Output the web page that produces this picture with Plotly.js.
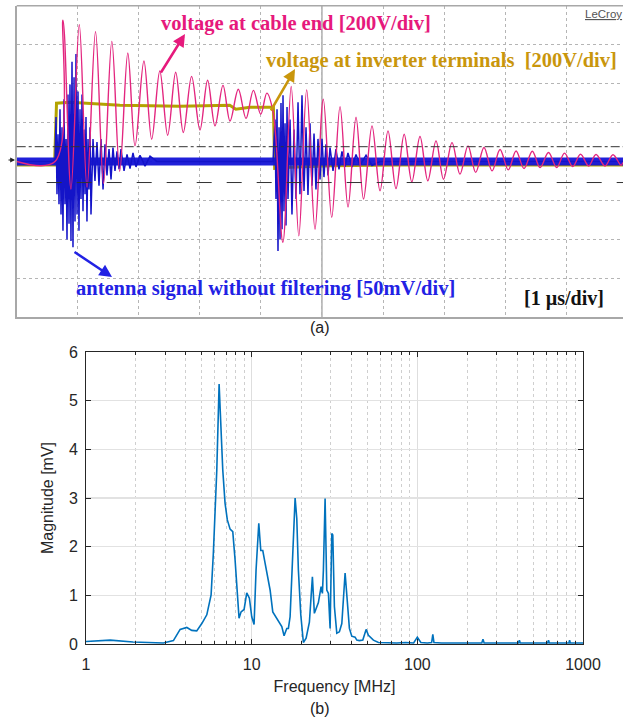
<!DOCTYPE html>
<html><head><meta charset="utf-8">
<script src="https://cdn.plot.ly/plotly-3.0.1.min.js"></script>
<style>html,body{margin:0;padding:0;background:#fff}#chart{width:623px;height:721px}</style>
</head><body><div id="chart"></div>
<script>
// ---------- (a) oscilloscope capture: time in µs from left edge of screen ----------
const cableEndTimeUs = [0, 0.627, 0.758, 0.889, 1.025, 1.152, 1.291, 1.422, 1.558, 1.687, 1.820, 1.938, 2.084, 2.211, 2.344, 2.473, 2.604, 2.729, 2.865, 3.002, 3.127, 3.248, 3.379, 3.494, 3.630, 3.756, 3.877, 3.997, 4.097, 4.200, 4.360, 4.496, 4.621, 4.750, 4.886, 5.022, 5.160, 5.296, 5.427, 5.558, 5.681, 5.820, 5.951, 6.082, 6.213, 6.347, 6.472, 6.606, 6.734, 6.868, 6.991, 7.130, 7.261, 7.392, 7.518, 7.654, 7.786, 7.917, 8.052, 8.179, 8.310, 8.446, 8.572, 8.711, 8.845, 8.973, 9.107, 9.235, 9.369, 9.489, 9.636, 9.767, 9.898, 9.931];
const cableEndV = [0, 0, 726, -142, 702, -132, 667, -112, 617, -50, 557, 80, 516, 114, 465, 135, 458, 149, 437, 162, 417, 183, 391, 208, 371, 221, 365, 243, 351, 253, -415, 385, -382, 368, -347, 320, -287, 282, -234, 227, -193, 183, -151, 157, -139, 140, -105, 128, -99, 106, -91, 97, -65, 80, -56, 72, -48, 62, -43, 54, -36, 53, -31, 46, -31, 43, -26, 37, -23, 36, -23, 35, -19, -5];

const inverterTimeUs = [0, 0.620, 0.652, 0.873, 1.69, 2.67, 3.49, 3.59, 3.82, 4.205, 4.225, 4.48, 5.13, 6.28, 9.931];
const inverterV = [-18, -18, 299, 304, 289, 284, 289, 268, 278, 278, -35, -30, -22, -18, -18];

const antennaTimeUs = [0, 0.627, 0.644, 0.660, 0.676, 0.693, 0.709, 0.726, 0.742, 0.758, 0.775, 0.791, 0.808, 0.824, 0.840, 0.857, 0.873, 0.889, 0.906, 0.922, 0.939, 0.955, 0.971, 0.988, 1.004, 1.020, 1.037, 1.053, 1.070, 1.086, 1.102, 1.119, 1.135, 1.151, 1.168, 1.184, 1.201, 1.217, 1.250, 1.282, 1.315, 1.348, 1.381, 1.414, 1.446, 1.479, 1.512, 1.545, 1.577, 1.610, 1.643, 1.676, 1.708, 1.758, 1.807, 1.856, 1.905, 1.954, 2.020, 2.102, 2.184, 2.30, 4.199, 4.231, 4.247, 4.264, 4.280, 4.297, 4.313, 4.329, 4.346, 4.362, 4.378, 4.395, 4.411, 4.428, 4.444, 4.477, 4.509, 4.542, 4.575, 4.608, 4.640, 4.673, 4.706, 4.739, 4.771, 4.804, 4.837, 4.870, 4.902, 4.935, 4.968, 5.001, 5.033, 5.066, 5.099, 5.132, 5.181, 5.230, 5.279, 5.328, 5.377, 5.426, 5.492, 5.558, 5.623, 5.722, 5.820, 5.95, 9.931];
const antennaMv = [0, 0, 57, -42, 35, -55, 67, -68, 44, -89, 80, -55, 29, -100, 86, -80, 99, -102, 128, -110, 108, -77, 138, -68, 90, -89, 67, -48, 86, -64, 41, -42, 57, -77, 29, -36, 44, -68, 29, -25, 25, -31, 29, -36, 22, -18, 16, -23, 18, -12, 13, -10, 16, -12, 9, -9, 11, -7, 8, -6, 7, 0, 0, 54, -48, 67, -115, 44, -100, 75, -87, 85, -64, 49, -82, 70, -48, 54, -68, 41, -48, 76, -42, 85, -38, 44, -43, 49, -31, 36, -36, 29, -23, 29, -20, 22, -18, 18, -12, 16, -10, 13, -7, 11, -7, 9, -5, 8, -5, 0, 0];

// antenna noise envelope (mV) and cursor levels (mV)
const noiseTimeUs = [0, 9.931];
const noiseUpperMv = [5, 5];
const noiseLowerMv = [-5, -5];
const cursorLevelsMv = [19, -27];

const voltsPerDiv = 200, mvPerDiv = 50;

// ---------- (b) spectrum ----------
const freqMHz = [1.00, 1.40, 1.92, 2.93, 3.37, 3.70, 4.06, 4.35, 4.66, 5.00, 5.36, 5.69, 5.87, 6.01, 6.16, 6.36, 6.51, 6.69, 6.91, 7.13, 7.41, 7.69, 7.94, 8.20, 8.39, 8.63, 9.00, 9.34, 9.69, 10.01, 10.34, 10.63, 11.04, 11.35, 11.67, 12.05, 12.44, 12.92, 13.41, 14.04, 14.70, 15.20, 15.69, 16.29, 16.66, 17.06, 17.54, 18.03, 18.29, 18.72, 19.14, 19.79, 20.52, 21.31, 22.31, 23.26, 23.91, 25.28, 26.25, 26.73, 27.10, 27.75, 28.41, 29.06, 29.75, 30.46, 30.88, 31.58, 32.65, 33.85, 35.01, 36.64, 37.83, 38.90, 40.21, 42.10, 43.11, 44.70, 46.87, 49.07, 50.67, 54.31, 58.24, 65, 75, 85, 95, 100, 105, 115, 122, 124, 126, 140, 170, 210, 245, 249, 253, 320, 408, 413, 418, 530, 612, 619, 626, 750, 822, 830, 838, 1000];
const magnitudeMv = [0.05, 0.08, 0.04, 0.02, 0.07, 0.30, 0.34, 0.28, 0.27, 0.42, 0.60, 1.01, 1.86, 2.55, 3.58, 5.34, 4.47, 3.58, 2.89, 2.55, 2.36, 2.31, 1.73, 0.97, 0.53, 0.66, 0.71, 1.05, 0.94, 0.56, 0.40, 1.52, 2.48, 1.92, 1.92, 1.66, 1.38, 1.11, 0.66, 0.56, 0.45, 0.36, 0.17, 0.32, 0.32, 0.56, 1.52, 2.57, 3.00, 2.58, 1.52, 0.60, 0.03, 0.12, 0.45, 1.38, 0.63, 0.85, 1.18, 1.04, 1.52, 2.99, 1.11, 1.04, 0.32, 2.27, 2.24, 0.77, 0.22, 0.25, 0.42, 1.46, 0.77, 0.32, 0.16, 0.14, 0.08, 0.07, 0.08, 0.30, 0.18, 0.08, 0.03, 0.02, 0.02, 0.03, 0.02, 0.14, 0.03, 0.02, 0.03, 0.20, 0.03, 0.02, 0.02, 0.02, 0.02, 0.10, 0.02, 0.02, 0.02, 0.08, 0.02, 0.02, 0.02, 0.08, 0.02, 0.02, 0.02, 0.08, 0.02, 0.02];

const freqTickVals = [1, 10, 100, 1000];
const freqTickText = ['1', '10', '100', '1000'];

// ---------- build ----------
const W = 623, H = 721;
const PX = x => x / W, PY = y => 1 - y / H;
const minorFreqTicks = [];
for (let d = 1; d < 1000; d *= 10) for (let k = 2; k <= 9; k++) minorFreqTicks.push(k * d);

const serif = '"Liberation Serif", "Times New Roman", serif';
const sans = '"Liberation Sans", Arial, sans-serif';

const traces = [
  {x: inverterTimeUs, y: inverterV.map(v => v / voltsPerDiv), xaxis: 'x2', yaxis: 'y2', mode: 'lines',
   line: {color: '#b3a300', width: 3}, hoverinfo: 'skip'},
  {x: noiseTimeUs, y: noiseUpperMv.map(v => v / mvPerDiv), xaxis: 'x2', yaxis: 'y2', mode: 'lines',
   line: {width: 0, color: '#1a1ad8'}, hoverinfo: 'skip'},
  {x: noiseTimeUs, y: noiseLowerMv.map(v => v / mvPerDiv), xaxis: 'x2', yaxis: 'y2', mode: 'lines',
   fill: 'tonexty', fillcolor: 'rgba(20,20,215,0.95)', line: {width: 0, color: '#1a1ad8'}, hoverinfo: 'skip'},
  {x: antennaTimeUs, y: antennaMv.map(v => v / mvPerDiv), xaxis: 'x2', yaxis: 'y2', mode: 'lines',
   line: {color: '#1414c8', width: 1.5}, hoverinfo: 'skip'},
  {x: cableEndTimeUs, y: cableEndV.map(v => v / voltsPerDiv), xaxis: 'x2', yaxis: 'y2', mode: 'lines',
   line: {color: '#e3267f', width: 1.4, shape: 'spline', smoothing: 1}, hoverinfo: 'skip'},
  {x: freqMHz, y: magnitudeMv, xaxis: 'x', yaxis: 'y', mode: 'lines',
   line: {color: '#0072BD', width: 1.6}, hoverinfo: 'skip'}
];

const shapes = [
  {type: 'line', xref: 'x2 domain', yref: 'y2 domain', x0: 0, x1: 1, y0: 1, y1: 1, line: {color: '#a8a8a8', width: 1.5}},
  {type: 'line', xref: 'x2', yref: 'y2 domain', x0: 5, x1: 5, y0: 0, y1: 1, line: {color: '#9a9a9a', width: 1.2}, layer: 'below'}
];
cursorLevelsMv.forEach((lv, i) => shapes.push({type: 'line', xref: 'x2 domain', yref: 'y2', x0: 0, x1: 1,
  y0: lv / mvPerDiv, y1: lv / mvPerDiv, line: {color: '#333', width: 1, dash: i === 0 ? 'dashdot' : 'longdash'}}));

const annotations = [
  {xref: 'paper', yref: 'paper', x: PX(159), y: PY(24), xanchor: 'left', yanchor: 'middle', showarrow: false,
   text: '<b>voltage at cable end [200V/div]</b>', font: {family: serif, size: 20.5, color: '#e6197c'}},
  {xref: 'paper', yref: 'paper', x: PX(264), y: PY(61), xanchor: 'left', yanchor: 'middle', showarrow: false,
   text: '<b>voltage at inverter terminals  [200V/div]</b>', font: {family: serif, size: 20.5, color: '#c9960c'}},
  {xref: 'paper', yref: 'paper', x: PX(74), y: PY(288), xanchor: 'left', yanchor: 'middle', showarrow: false,
   text: '<b>antenna signal without filtering [50mV/div]</b>', font: {family: serif, size: 20.5, color: '#2222e4'}},
  {xref: 'paper', yref: 'paper', x: PX(522), y: PY(298), xanchor: 'left', yanchor: 'middle', showarrow: false,
   text: '<b>[1 µs/div]</b>', font: {family: serif, size: 20, color: '#111'}},
  {xref: 'paper', yref: 'paper', x: PX(583), y: PY(14), xanchor: 'left', yanchor: 'middle', showarrow: false,
   text: '<u>LeCroy</u>', font: {family: sans, size: 11.5, color: '#555'}},
  {xref: 'paper', yref: 'paper', x: PX(185), y: PY(34), ax: -25, ay: 40, showarrow: true, text: '',
   arrowcolor: '#e6197c', arrowwidth: 2.5, arrowhead: 2, arrowsize: 1},
  {xref: 'paper', yref: 'paper', x: PX(295), y: PY(69), ax: -25, ay: 43, showarrow: true, text: '',
   arrowcolor: '#c9960c', arrowwidth: 2.5, arrowhead: 2, arrowsize: 1},
  {xref: 'paper', yref: 'paper', x: PX(112), y: PY(277), ax: -39, ay: -26, showarrow: true, text: '',
   arrowcolor: '#2222e4', arrowwidth: 2.5, arrowhead: 2, arrowsize: 1},
  {xref: 'paper', yref: 'paper', x: PX(15), y: PY(160), ax: -8, ay: 0, showarrow: true, text: '',
   arrowcolor: '#222', arrowwidth: 1.2, arrowhead: 2, arrowsize: 0.8},
  {xref: 'paper', yref: 'paper', x: PX(320), y: PY(327), xanchor: 'center', yanchor: 'middle', showarrow: false,
   text: '(a)', font: {family: sans, size: 16, color: '#222'}},
  {xref: 'paper', yref: 'paper', x: PX(320), y: PY(708), xanchor: 'center', yanchor: 'middle', showarrow: false,
   text: '(b)', font: {family: sans, size: 16, color: '#222'}}
];

const layout = {
  width: W, height: H, margin: {l: 0, r: 0, t: 0, b: 0},
  paper_bgcolor: '#fff', plot_bgcolor: '#fff', showlegend: false,
  font: {family: sans, size: 16, color: '#262626'},
  xaxis2: {domain: [PX(16.7), 1], range: [0, 9.931], anchor: 'y2', dtick: 1, tick0: 0,
    showgrid: true, gridcolor: '#b5b5b5', griddash: 'dot', gridwidth: 1, zeroline: false,
    showticklabels: false, ticks: '', showline: true, linecolor: '#a8a8a8', linewidth: 1.5, fixedrange: true},
  yaxis2: {domain: [PY(317.3), PY(5.7)], range: [-4, 4], anchor: 'x2', dtick: 1, tick0: 0,
    showgrid: true, gridcolor: '#b5b5b5', griddash: 'dot', gridwidth: 1, zeroline: false,
    showticklabels: false, ticks: '', showline: true, linecolor: '#a8a8a8', linewidth: 1.5, fixedrange: true},
  xaxis: {domain: [PX(86), PX(583)], type: 'log', range: [0, 3], anchor: 'y',
    tickmode: 'array', tickvals: freqTickVals, ticktext: freqTickText,
    ticks: 'inside', ticklen: 5, tickcolor: '#262626', ticklabelstandoff: 6,
    showline: true, linecolor: '#262626', linewidth: 1, mirror: 'ticks',
    showgrid: true, gridcolor: '#dedede', gridwidth: 1.4, zeroline: false,
    minor: {tickmode: 'array', tickvals: minorFreqTicks, ticks: 'inside', ticklen: 3, tickcolor: '#262626',
      showgrid: true, gridcolor: '#cfcfcf', griddash: 'dot', gridwidth: 1},
    title: {text: 'Frequency [MHz]', font: {family: sans, size: 16, color: '#262626'}, standoff: 8},
    tickfont: {family: sans, size: 16, color: '#262626'}},
  yaxis: {domain: [PY(644), PY(352)], range: [0, 6], anchor: 'x', dtick: 1, tick0: 0,
    ticks: 'inside', ticklen: 5, tickcolor: '#262626', ticklabelstandoff: 4,
    showline: true, linecolor: '#262626', linewidth: 1, mirror: 'ticks',
    showgrid: true, gridcolor: '#e2e2e2', gridwidth: 1.2, zeroline: false,
    title: {text: 'Magnitude [mV]', font: {family: sans, size: 16, color: '#262626'}, standoff: 11},
    tickfont: {family: sans, size: 16, color: '#262626'}},
  shapes: shapes, annotations: annotations
};

Plotly.newPlot('chart', traces, layout, {displayModeBar: false, staticPlot: true});
</script></body></html>
